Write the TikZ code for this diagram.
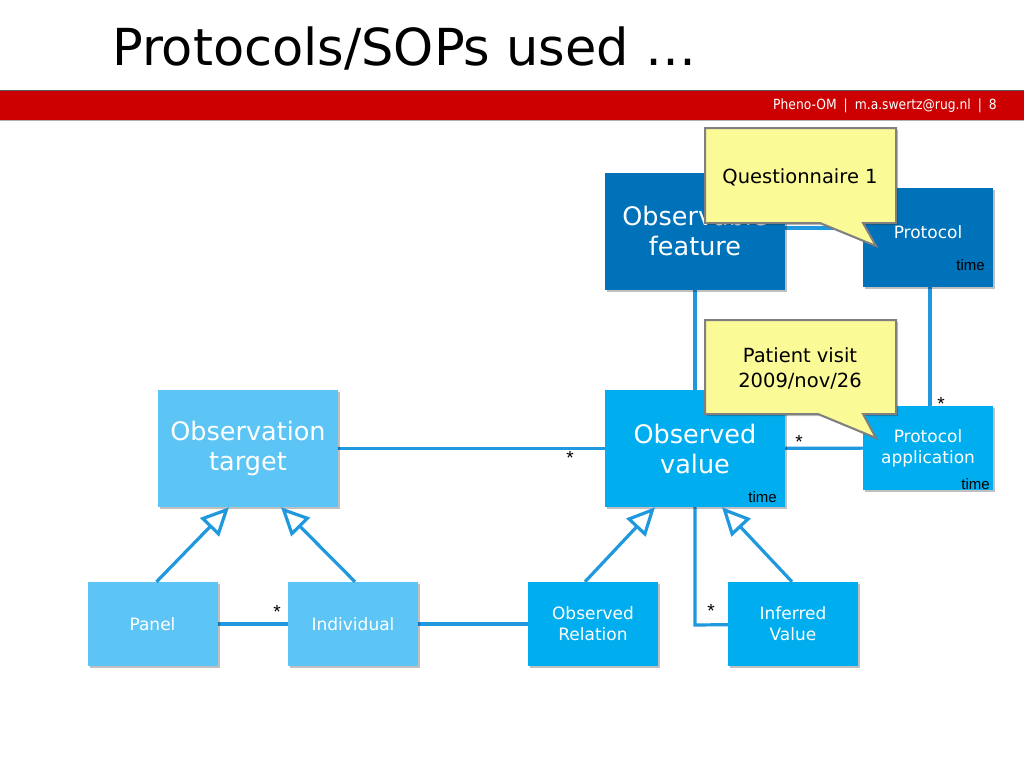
\documentclass[tikz,border=0pt]{standalone}
\usepackage{fontspec}
\setmainfont{DejaVu Sans}
\newfontfamily\arialf{Liberation Sans}
\newfontfamily\condf[FakeStretch=0.88]{DejaVu Sans}
\usetikzlibrary{arrows.meta,shadows,calc}
\definecolor{darkbox}{RGB}{0,114,186}
\definecolor{midbox}{RGB}{0,174,239}
\definecolor{lightbox}{RGB}{92,197,246}
\definecolor{linkc}{RGB}{32,152,222}
\definecolor{barred}{RGB}{204,0,0}
\definecolor{notey}{RGB}{250,250,150}
\definecolor{noteb}{RGB}{128,128,128}
\tikzset{
  box/.style={rectangle, draw=none, text=white, align=center, inner sep=0pt,
    drop shadow={shadow xshift=2pt, shadow yshift=-2pt, opacity=0.25, fill=black}},
  bigbox/.style={box, minimum width=180pt, minimum height=117pt, font=\fontsize{25.5}{30}\selectfont},
  smallbox/.style={box, minimum width=130pt, minimum height=84pt, font=\fontsize{17}{21}\selectfont},
  link/.style={draw=linkc, line width=3.2pt},
  gen/.style={link, -{Triangle[open, length=28pt, width=26pt, line width=3.2pt]}},
  mult/.style={font=\arialf\fontsize{19}{19}\selectfont, inner sep=0pt},
  timel/.style={font=\arialf\fontsize{15}{15}\selectfont, inner sep=0pt, anchor=south east},
  notetext/.style={font=\fontsize{19.5}{25}\selectfont, align=center, inner sep=0pt},
  notebox/.style={fill=notey, draw=noteb, line width=2pt, line join=miter,
    drop shadow={shadow xshift=2pt, shadow yshift=-2pt, opacity=0.25, fill=black}}
}
\begin{document}
\begin{tikzpicture}[x=1pt, y=-1pt]
\useasboundingbox[fill=white] (0,0) rectangle (1024,768);
% title and bar
\node[anchor=base west, inner sep=0pt, font=\fontsize{51}{51}\selectfont] (title) at (112,66) {Protocols/SOPs used …};
\fill[barred] (0,90) rectangle (1024,120);
\draw[gray!70!black, line width=0.8pt] (0,90) -- (1024,90);
\draw[gray!60, line width=0.6pt] (0,120) -- (1024,120);
\node[anchor=base east, inner sep=0pt, text=white, font=\condf\fontsize{14}{14}\selectfont] (hdr) at (997,109) {Pheno-OM\enspace|\enspace m.a.swertz@rug.nl\enspace|\enspace 8};

\coordinate (cfeat) at (695,231);
\coordinate (cprot) at (928,237.5);
\coordinate (cval) at (695,448.5);
\coordinate (cpapp) at (928,448);
\coordinate (ctarg) at (248,448.5);
\coordinate (cpanel) at (152.5,624);
\coordinate (cind) at (353,624);
\coordinate (crel) at (593,624);
\coordinate (cinf) at (793,624);

% connectors
\draw[link] (cfeat |- 0,228) -- (cprot |- 0,228);
\draw[link] (cfeat) -- (cval);
\draw[link] (930,260) -- (930,420);
\draw[link] (ctarg) -- (cval);
\draw[link] (cval) -- (cpapp);
\draw[link] (cpanel) -- (crel);
\draw[link, line join=miter] (cval) -- (695,625) -- (cinf);

% boxes
\node[bigbox, fill=darkbox] (feat) at (cfeat) {Observable\\feature};
\node[smallbox, fill=darkbox, minimum height=99pt] (prot) at (cprot) {};
\node[inner sep=0pt, text=white, font=\fontsize{17}{21}\selectfont] (protl) at (928,232) {Protocol};
\node[bigbox, fill=midbox] (val) at (cval) {Observed\\value};
\node[smallbox, fill=midbox] (papp) at (cpapp) {Protocol\\application};
\node[bigbox, fill=lightbox] (targ) at (ctarg) {Observation\\target};
\node[smallbox, fill=lightbox] (panel) at (cpanel) {Panel};
\node[smallbox, fill=lightbox] (ind) at (cind) {Individual};
\node[smallbox, fill=midbox] (rel) at (crel) {Observed\\Relation};
\node[smallbox, fill=midbox] (inf) at (cinf) {Inferred\\Value};

% time labels
\node[timel] (t1) at (985,271) {time};
\node[timel] (t2) at (777,503) {time};
\node[timel] (t3) at (990,490) {time};

% generalisations
\draw[gen] ([xshift=4pt]panel.north) -- ([xshift=-19pt]targ.south);
\draw[gen] ([xshift=2pt]ind.north) -- ([xshift=33pt]targ.south);
\draw[gen] ([xshift=-8pt]rel.north) -- ([xshift=-40pt]val.south);
\draw[gen] ([xshift=-1pt]inf.north) -- ([xshift=27pt]val.south);

% multiplicities
\node[mult] (m1) at (570,458) {*};
\node[mult] (m2) at (799,442) {*};
\node[mult] (m3) at (941,404) {*};
\node[mult] (m4) at (277,612) {*};
\node[mult] (m5) at (711,611) {*};

% callouts
\path[notebox] (705,128) -- (896,128) -- (896,223) -- (863,223) -- (876,246) -- (820,223) -- (705,223) -- cycle;
\node[notetext] (q1) at (800,177) {Questionnaire 1};
\path[notebox] (705,320) -- (896,320) -- (896,414) -- (863,414) -- (876,438) -- (818,414) -- (705,414) -- cycle;
\node[notetext] (pv) at (800,368) {Patient visit\\2009/nov/26};
\end{tikzpicture}
\end{document}
